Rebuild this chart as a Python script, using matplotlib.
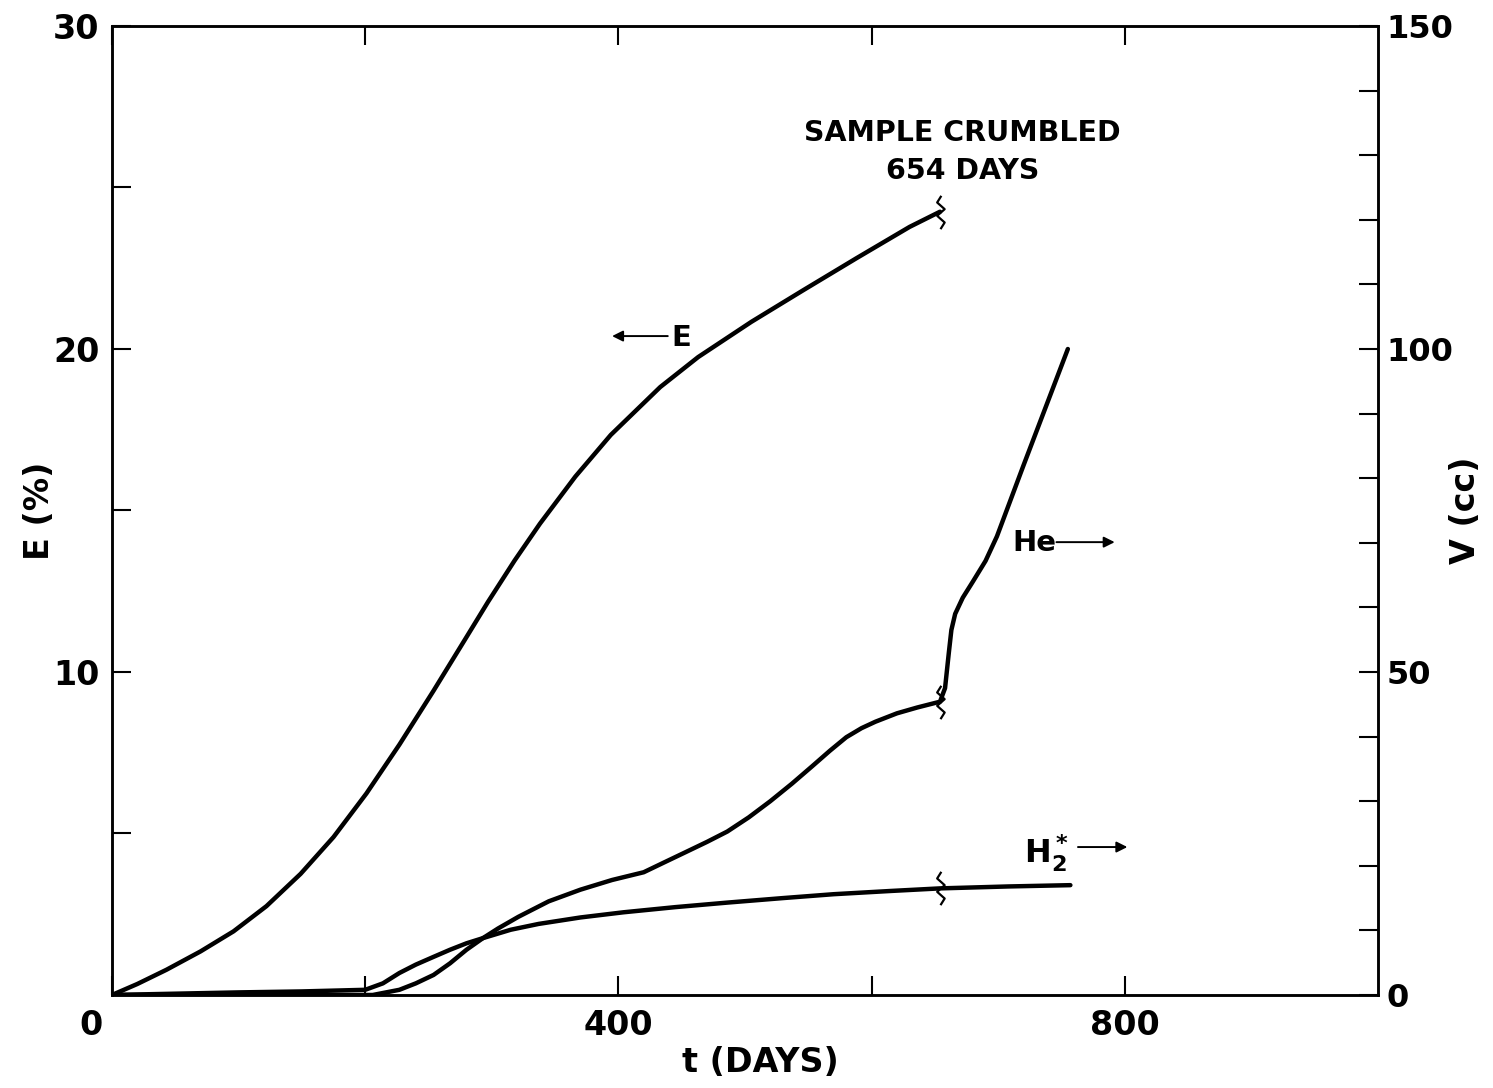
import matplotlib
matplotlib.use('Agg')
import matplotlib.pyplot as plt
from matplotlib.path import Path
from matplotlib.transforms import ScaledTranslation

# E (%) vs t (days), left axis - stops where the sample crumbled
t_e = [0, 20, 43, 70, 96, 122, 149, 175, 201, 227, 254, 280, 297, 318, 338,
       366, 394, 433, 463, 505, 546, 588, 630, 654]
e_pct = [0, 0.34, 0.78, 1.35, 1.97, 2.75, 3.75, 4.89, 6.24, 7.75, 9.42, 11.08, 12.17,
         13.45, 14.59, 16.05, 17.34, 18.82, 19.75, 20.84, 21.82, 22.81, 23.78, 24.25]

# He volume V (cc), right axis
t_he = [0, 100, 206, 227, 240, 254, 267, 280, 293, 305, 321, 345, 370, 395, 420,
        437, 453, 470, 486, 503, 520, 537, 553, 567, 580, 592, 603, 620, 636, 654,
        658, 661, 663, 666, 672, 680, 690, 699, 720, 755]
v_he = [0, 0, 0, 0.8, 1.8, 3.1, 4.9, 7.0, 8.8, 10.3, 12.1, 14.5, 16.3, 17.8, 19.0,
        20.6, 22.1, 23.7, 25.3, 27.5, 30.0, 32.7, 35.4, 37.8, 39.9, 41.3, 42.3, 43.6,
        44.5, 45.4, 47.5, 53.0, 56.5, 59.0, 61.5, 64.0, 67.2, 71.0, 82.0, 100.0]

# H2* volume V (cc), right axis
t_h2 = [0, 50, 100, 150, 200, 214, 227, 240, 254, 267, 280, 293, 315, 337, 370,
        404, 445, 486, 530, 570, 615, 654, 708, 757]
v_h2 = [0, 0.2, 0.4, 0.55, 0.8, 1.8, 3.4, 4.7, 5.9, 7.0, 8.0, 8.8, 10.1, 11.0, 12.0,
        12.8, 13.6, 14.3, 15.0, 15.6, 16.1, 16.5, 16.8, 17.0]

crumble_day = 654

plt.rcParams['font.family'] = 'DejaVu Sans'
plt.rcParams['font.weight'] = 'bold'
plt.rcParams['axes.labelweight'] = 'bold'
plt.rcParams['mathtext.default'] = 'bf'

fig = plt.figure(figsize=(14.93, 10.88), dpi=100)
ax = fig.add_axes([0.075, 0.0855, 0.848, 0.8906])
ax2 = ax.twinx()

lw = 3.2
ax.plot(t_e, e_pct, color='black', lw=lw, solid_capstyle='round', solid_joinstyle='round')
ax2.plot(t_he, v_he, color='black', lw=lw, solid_capstyle='round', solid_joinstyle='round')
ax2.plot(t_h2, v_h2, color='black', lw=lw, solid_capstyle='round', solid_joinstyle='round')

# break marks at the crumble day
squiggle = Path([(0.05, 1.0), (-0.2, 0.6), (0.25, 0.2), (-0.2, -0.2),
                 (0.25, -0.6), (0.0, -1.0)])
mk = dict(marker=squiggle, markersize=24, mfc='none', mec='black', mew=1.6, ls='none')
ax.plot([crumble_day], [e_pct[t_e.index(crumble_day)]], **mk)
ax2.plot([crumble_day], [v_he[t_he.index(crumble_day)]], **mk)
ax2.plot([crumble_day], [v_h2[t_h2.index(crumble_day)]], **mk)

ax.set_xlim(0, 1000)
ax.set_ylim(0, 30)
ax2.set_ylim(0, 150)

ax.set_xticks([0, 200, 400, 600, 800])
ax.set_xticklabels(['0', '', '400', '', '800'])
ax.set_yticks([0, 5, 10, 15, 20, 25, 30])
ax.set_yticklabels(['', '', '10', '', '20', '', '30'])
ax2.set_yticks(range(0, 151, 10))
ax2.set_yticklabels([str(v) if v % 50 == 0 else '' for v in range(0, 151, 10)])

ax.tick_params(axis='both', direction='in', length=14, width=1.5, labelsize=24, top=True)
ax.tick_params(axis='x', pad=10)
ax.tick_params(axis='y', pad=9)
ax2.tick_params(axis='y', direction='in', length=14, width=1.5, labelsize=23, pad=6)

for sp in ax.spines.values():
    sp.set_linewidth(1.8)
for sp in ax2.spines.values():
    sp.set_linewidth(1.8)

# the bottom-left "0" sits left of the corner
lbl0 = ax.get_xticklabels()[0]
lbl0.set_transform(lbl0.get_transform() + ScaledTranslation(-0.21, 0, fig.dpi_scale_trans))

ax.set_xlabel('t (DAYS)', fontsize=24, va='center')
ax.xaxis.set_label_coords(0.512, -0.070)
ax.set_ylabel('E (%)', fontsize=24, va='center')
ax.yaxis.set_label_coords(-0.057, 0.5)
ax2.set_ylabel('V (cc)', fontsize=24, va='center', rotation=90)
ax2.yaxis.set_label_coords(1.069, 0.5)

ax.text(672, 26.1, 'SAMPLE CRUMBLED\n654 DAYS', ha='center', va='center',
        fontsize=20.5, linespacing=1.45, multialignment='center')

arrow = dict(arrowstyle='-|>', lw=1.4, color='black', mutation_scale=16,
             shrinkA=0, shrinkB=0)
ax.annotate('', xy=(395, 20.4), xytext=(439, 20.4), arrowprops=arrow)
ax.text(442, 20.35, 'E', ha='left', va='center', fontsize=21)

ax2.text(711, 70.0, 'He', ha='left', va='center', fontsize=21)
ax2.annotate('', xy=(792, 70.1), xytext=(746, 70.1), arrowprops=arrow)

ax2.text(720, 22.0, r'H$_2^*$', ha='left', va='center', fontsize=23)
ax2.annotate('', xy=(802, 22.9), xytext=(763, 22.9), arrowprops=arrow)

fig.savefig('out.png', dpi=100)
